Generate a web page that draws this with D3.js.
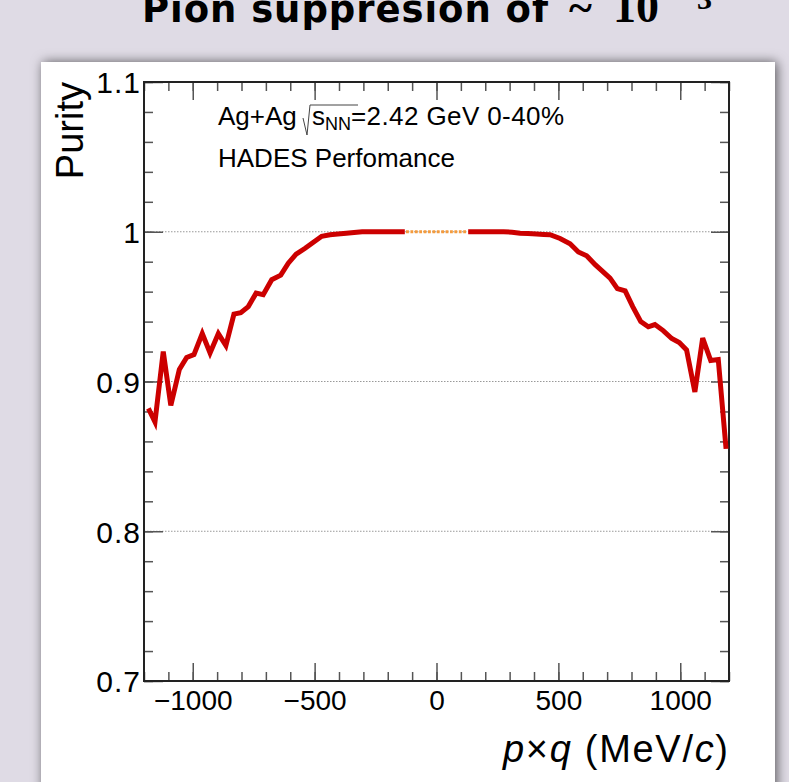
<!DOCTYPE html>
<html>
<head>
<meta charset="utf-8">
<script src="https://cdn.jsdelivr.net/npm/d3@7"></script>
<style>
  body { margin: 0; background: #dfdbe5; }
  svg { display: block; }
</style>
</head>
<body>
<svg id="chart" width="789" height="782"></svg>
<script>
// valeurs
var leftX = [-1182, -1155, -1121, -1090, -1055, -1025, -995, -961, -929, -895, -864, -831, -803, -772, -740, -711, -676, -639, -608, -576, -539, -505, -471, -437, -405, -370, -338, -305, -272, -240, -205, -170, -130];
var leftY = [0.882, 0.873, 0.920, 0.884, 0.908, 0.916, 0.918, 0.932, 0.919, 0.932, 0.924, 0.945, 0.946, 0.950, 0.959, 0.958, 0.968, 0.971, 0.979, 0.985, 0.989, 0.993, 0.997, 0.998, 0.9985, 0.999, 0.9995, 1, 1, 1, 1, 1, 1];
var rightX = [130, 170, 205, 240, 275, 310, 343, 375, 410, 440, 466, 507, 548, 582, 616, 651, 678, 712, 742, 774, 805, 838, 869, 896, 930, 965, 996, 1026, 1060, 1092, 1125, 1156, 1188];
var rightY = [1, 1, 1, 1, 1, 0.9997, 0.999, 0.9988, 0.9985, 0.9982, 0.998, 0.9955, 0.992, 0.9865, 0.984, 0.978, 0.974, 0.969, 0.962, 0.9605, 0.950, 0.940, 0.9365, 0.938, 0.934, 0.9287, 0.926, 0.921, 0.893, 0.929, 0.914, 0.9147, 0.855];
// zone centrale (pointillés orange)
var midX = [-125, 125];
var midY = [1, 1];

var xMajor = [-1000, -500, 0, 500, 1000];
var xLabels = ["\u22121000", "\u2212500", "0", "500", "1000"];
var yMajor = [0.7, 0.8, 0.9, 1.0, 1.1];
var yLabels = ["0.7", "0.8", "0.9", "1", "1.1"];
var yGrid = [0.8, 0.9, 1.0];

var svg = d3.select("#chart");

// panneau blanc avec ombre
var defs = svg.append("defs");
var f = defs.append("filter").attr("id", "shadow")
  .attr("x", "-10%").attr("y", "-10%").attr("width", "120%").attr("height", "120%");
f.append("feDropShadow")
  .attr("dx", 2).attr("dy", 0)
  .attr("stdDeviation", 6)
  .attr("flood-color", "#000")
  .attr("flood-opacity", 0.6);
defs.append("clipPath").attr("id", "clip")
  .append("rect").attr("x", 144).attr("y", 82).attr("width", 585).attr("height", 599);

svg.append("rect")
  .attr("x", 41).attr("y", 62)
  .attr("width", 734).attr("height", 760)
  .attr("fill", "white")
  .attr("filter", "url(#shadow)");

// titre (coupé en haut)
var title = svg.append("text")
  .attr("y", 22)
  .style("fill", "black");
title.append("tspan")
  .attr("x", 142)
  .style("font-family", "DejaVu Sans")
  .style("font-weight", "bold")
  .style("font-size", "37px")
  .attr("textLength", 406)
  .text("Pion suppresion of");
title.append("tspan")
  .attr("x", 569)
  .style("font-family", "Liberation Serif")
  .style("font-weight", "bold")
  .style("font-size", "44px")
  .text("~");
title.append("tspan")
  .attr("x", 613)
  .style("font-family", "Liberation Serif")
  .style("font-weight", "bold")
  .style("font-size", "46px")
  .text("10");
title.append("tspan")
  .attr("x", 680).attr("y", 9)
  .style("font-family", "Liberation Serif")
  .style("font-weight", "bold")
  .style("font-size", "30px")
  .text("\u22123");

var x = d3.scaleLinear().domain([-1200, 1200]).range([144, 729]);
var y = d3.scaleLinear().domain([0.7, 1.1]).range([681, 82]);

// grille pointillée
svg.append("g")
  .selectAll("line")
  .data(yGrid)
  .enter()
  .append("line")
  .attr("x1", x(-1200)).attr("x2", x(1200))
  .attr("y1", function (d) { return y(d); })
  .attr("y2", function (d) { return y(d); })
  .attr("stroke", "#999")
  .attr("stroke-width", 1)
  .style("stroke-dasharray", "1.5,1.5");

var xMinor = d3.range(-1200, 1201, 100);
var yMinor = d3.range(0.7, 1.1001, 0.02);

function styleTicks(g, col) {
  g.selectAll(".tick line").attr("stroke", col).attr("stroke-width", 1.5);
  g.select(".domain").remove();
}

// axes mineurs
svg.append("g").attr("transform", "translate(0,681)")
  .call(d3.axisBottom(x).tickValues(xMinor).tickSize(-9).tickFormat(""))
  .call(styleTicks, "#555");
svg.append("g").attr("transform", "translate(0,82)")
  .call(d3.axisTop(x).tickValues(xMinor).tickSize(-9).tickFormat(""))
  .call(styleTicks, "#555");
svg.append("g").attr("transform", "translate(144,0)")
  .call(d3.axisLeft(y).tickValues(yMinor).tickSize(-9).tickFormat(""))
  .call(styleTicks, "#555");
svg.append("g").attr("transform", "translate(729,0)")
  .call(d3.axisRight(y).tickValues(yMinor).tickSize(-9).tickFormat(""))
  .call(styleTicks, "#555");

// axes majeurs
var xb = svg.append("g").attr("transform", "translate(0,681)")
  .call(d3.axisBottom(x).tickValues(xMajor).tickSize(-18).tickSizeOuter(0).tickPadding(9)
    .tickFormat(function (d, i) { return xLabels[i]; }));
svg.append("g").attr("transform", "translate(0,82)")
  .call(d3.axisTop(x).tickValues(xMajor).tickSize(-18).tickFormat(""))
  .call(styleTicks, "#555");
var yl = svg.append("g").attr("transform", "translate(144,0)")
  .call(d3.axisLeft(y).tickValues(yMajor).tickSize(-19).tickSizeOuter(0).tickPadding(3)
    .tickFormat(function (d, i) { return yLabels[i]; }));
svg.append("g").attr("transform", "translate(729,0)")
  .call(d3.axisRight(y).tickValues(yMajor).tickSize(-18).tickFormat(""))
  .call(styleTicks, "#555");

[xb, yl].forEach(function (g) {
  g.selectAll(".tick line").attr("stroke", "#555").attr("stroke-width", 1.5);
  g.select(".domain").remove();
  g.selectAll("text")
    .style("font-family", "Liberation Sans")
    .style("font-size", "28px")
    .style("fill", "black");
});
yl.selectAll("text")
  .attr("dy", "0.36em")
  .style("font-size", "30px")
  .style("letter-spacing", "1px");

// cadre
svg.append("rect")
  .attr("x", 144).attr("y", 82)
  .attr("width", 585).attr("height", 599)
  .attr("fill", "none")
  .attr("stroke", "#222")
  .attr("stroke-width", 2);

// courbes
var line = d3.line()
  .x(function (d) { return x(d[0]); })
  .y(function (d) { return y(d[1]); });

var plot = svg.append("g").attr("clip-path", "url(#clip)");
plot.append("path")
  .datum(d3.zip(midX, midY))
  .attr("d", line)
  .attr("fill", "none")
  .attr("stroke", "#f59b3c")
  .attr("stroke-width", 3)
  .style("stroke-dasharray", "2.8,1.6");
[d3.zip(leftX, leftY), d3.zip(rightX, rightY)].forEach(function (pts) {
  plot.append("path")
    .datum(pts)
    .attr("d", line)
    .attr("fill", "none")
    .attr("stroke", "#cc0000")
    .attr("stroke-width", 5);
});

// textes
var leg = svg.append("text")
  .attr("x", 218).attr("y", 125)
  .style("font-family", "Liberation Sans")
  .style("font-size", "26px")
  .style("fill", "black");
leg.append("tspan").text("Ag+Ag ");
leg.append("tspan").attr("dx", 8).text("s");
leg.append("tspan").attr("dy", 4.5).style("font-size", "18px").text("NN");
leg.append("tspan").attr("dy", -4.5).attr("textLength", 213).text("=2.42 GeV 0-40%");
svg.append("path")
  .attr("d", "M303,118 L307,135 L310,105 L358,105")
  .attr("fill", "none")
  .attr("stroke", "#444")
  .attr("stroke-width", 1);

svg.append("text")
  .attr("x", 218).attr("y", 167)
  .style("font-family", "Liberation Sans")
  .style("font-size", "26px")
  .style("fill", "black")
  .text("HADES Perfomance");

// titres des axes
svg.append("text")
  .attr("transform", "translate(83,82) rotate(-90)")
  .attr("text-anchor", "end")
  .style("font-family", "Liberation Sans")
  .style("font-size", "38px")
  .style("fill", "black")
  .text("Purity");

var xt = svg.append("text")
  .attr("x", 503).attr("y", 762)
  .attr("textLength", 225)
  .style("font-family", "Liberation Sans")
  .style("font-size", "38px")
  .style("fill", "black");
xt.append("tspan").style("font-style", "italic").text("p");
xt.append("tspan").text("\u00d7");
xt.append("tspan").style("font-style", "italic").text("q");
xt.append("tspan").text(" (MeV/");
xt.append("tspan").style("font-style", "italic").text("c");
xt.append("tspan").text(")");
</script>
</body>
</html>
